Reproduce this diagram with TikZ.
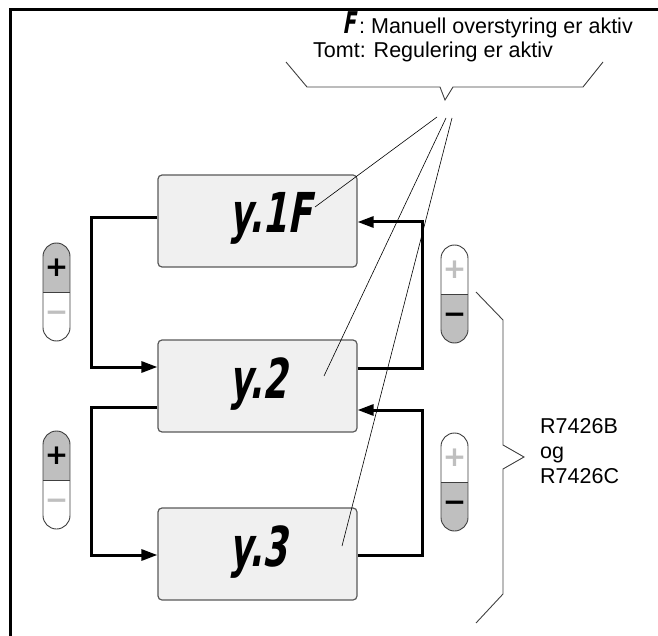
\documentclass[tikz,border=0pt]{standalone}
\usepackage{fontspec}
\setmainfont{Liberation Sans}
\newfontfamily\lcdfont{DejaVu Sans Bold}[FakeStretch=0.64,FakeSlant=0.18]
\newfontfamily\tastfont{DejaVu Sans Bold}
\usetikzlibrary{arrows.meta,calc}
\definecolor{PanelClr}{rgb}{0.94,0.94,0.94}
\definecolor{KeyClr}{rgb}{0.75,0.75,0.75}
\definecolor{EdgeClr}{rgb}{0.35,0.35,0.35}
\definecolor{BraceClr}{rgb}{0.25,0.25,0.25}

\tikzset{
  display/.style={draw=EdgeClr,line width=1.2pt,fill=PanelClr,rounded corners=4pt,
    minimum width=199pt,minimum height=92pt,inner sep=0pt},
  lcd/.style={font=\lcdfont\fontsize{55}{55}\selectfont,inner sep=0pt,anchor=base west},
  link/.style={line width=3pt,-{Triangle[length=16pt,width=11pt]}},
  keyline/.style={draw=BraceClr,line width=0.9pt},
  sign/.style={font=\tastfont\fontsize{28}{28}\selectfont,inner sep=0pt},
  note/.style={font=\fontsize{21.5}{25}\selectfont,inner sep=0pt},
  brace/.style={draw=BraceClr,line width=0.9pt,line join=miter},
  ray/.style={line width=0.6pt}
}

% one +/- key: left x, top y, upper fill, lower fill
\newcommand{\knapp}[4]{%
  \begin{scope}
    \clip[rounded corners=13.5pt] (#1,#2) rectangle ++(27,98);
    \fill[#3] (#1,#2) rectangle ++(27,49);
    \fill[#4] (#1,#2+49) rectangle ++(27,49);
  \end{scope}
  \draw[keyline,rounded corners=13.5pt] (#1,#2) rectangle ++(27,98);
  \draw[keyline] (#1,#2+49) -- ++(27,0);
}

\begin{document}
\begin{tikzpicture}[x=1pt,y=-1pt]
\useasboundingbox (0,0) rectangle (658,636);

% frame
\draw[line width=3pt] (10,636) -- (10,10) -- (658,10);

% displays
\node[display] (b1) at (257.5,221) {};
\node[display] (b2) at (257.5,386) {};
\node[display] (b3) at (257.5,554) {};
\node[lcd] (t1) at ([xshift=72pt,yshift=-12pt]b1.west) {y.1F};
\node[lcd] (t2) at ([xshift=72pt,yshift=-12pt]b2.west) {y.2};
\node[lcd] (t3) at ([xshift=72pt,yshift=-12pt]b3.west) {y.3};

% loops
\draw[link] ([yshift=3pt]b1.west) -- ++(-66,0) |- ([yshift=19pt]b2.west);
\draw[link] ([yshift=-21pt]b2.west) -- ++(-66,0) |- ([yshift=-1pt]b3.west);
\draw[link] ([yshift=18pt]b2.east) -- ++(65,0) |- ([yshift=-1pt]b1.east);
\draw[link] ([yshift=-1pt]b3.east) -- ++(65,0) |- ([yshift=-24pt]b2.east);

% keys
\knapp{43}{243}{KeyClr}{white}
\knapp{43}{431}{KeyClr}{white}
\knapp{441}{245}{white}{KeyClr}
\knapp{441}{433}{white}{KeyClr}
\node[sign] (p1) at (56.5,267.5) {+};
\node[sign,text=KeyClr] (m1) at (56.5,316.5) {−};
\node[sign] (p2) at (56.5,455.5) {+};
\node[sign,text=KeyClr] (m2) at (56.5,504.5) {−};
\node[sign,text=KeyClr] (p3) at (454.5,269.5) {+};
\node[sign] (m3) at (454.5,318.5) {−};
\node[sign,text=KeyClr] (p4) at (454.5,457.5) {+};
\node[sign] (m4) at (454.5,506.5) {−};

% legend at top
\node[note,anchor=base east] (f) at (633,34)
  {{\lcdfont\fontsize{30}{30}\selectfont F}\,: Manuell overstyring er aktiv};
\node[note,anchor=base west] (tomt) at (313,58) {Tomt: Regulering er aktiv};
\draw[brace] (286,62) -- (307,87) -- (440,87) -- (445,100) -- (453,87)
  -- (583,87) -- (603,62);
\coordinate (r1) at (437,117);
\coordinate (r2) at (446,118);
\coordinate (r3) at (452,118);
\draw[ray] (r1) -- (315,207);
\draw[ray] (r2) -- (324,376);
\draw[ray] (r3) -- (342,546);

% controller types
\draw[brace] (476,292) -- (503,320) -- (503,445) -- (524,457) -- (503,469)
  -- (503,594) -- (476,623);
\node[note,anchor=north west,align=left] (typ) at (540,418)
  {R7426B\\og\\R7426C};

\end{tikzpicture}
\end{document}
